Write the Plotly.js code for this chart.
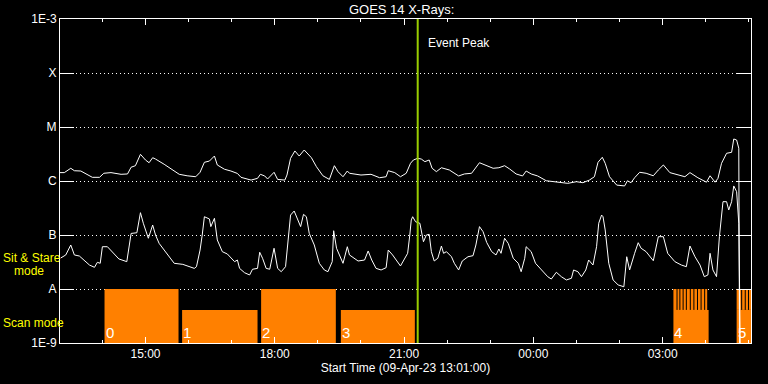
<!DOCTYPE html>
<html>
<head>
<meta charset="utf-8">
<script src="https://cdn.plot.ly/plotly-3.0.1.min.js"></script>
<style>html,body{margin:0;padding:0;background:#000;}#chart{width:768px;height:384px;}</style>
</head>
<body>
<div id="chart"></div>
<script>
// ---- DATA ----
// Start of record: 09-Apr-23 13:00; times below are minutes after 13:00
const startTime = '2023-04-09 13:01';
const endTime = '2023-04-10 05:03';

const longMinutes = [1,7,16,21,30,39,46,56,62,72,
  86,95,100,106,111,113,120,125,130,134,
  146,158,167,178,190,196,202,209,216,220,
  230,239,248,253,267,276,280,286,290,299,
  304,314,317,322,328,334,341,351,358,367,
  376,383,388,395,401,404,420,434,446,455,
  458,467,475,483,489,493,499,504,509,515,
  519,525,532,543,556,564,574,585,592,604,
  612,620,627,636,645,650,657,666,678,692,
  708,720,729,738,745,750,756,760,766,776,
  787,791,796,801,808,817,827,834,841,850,
  864,871,878,889,901,906,913,917,922,929,
  936,939,943,946,947];
const longFlux = [1.43e-6,1.43e-6,1.72e-6,1.55e-6,1.53e-6,1.29e-6,1.17e-6,1.17e-6,1.39e-6,1.43e-6,
  1.33e-6,1.35e-6,1.80e-6,1.92e-6,2.82e-6,3.12e-6,2.45e-6,2.18e-6,2.70e-6,2.55e-6,
  2.04e-6,1.60e-6,1.33e-6,1.25e-6,1.20e-6,1.45e-6,2.22e-6,2.34e-6,2.90e-6,1.98e-6,
  1.65e-6,1.53e-6,1.38e-6,1.17e-6,1.04e-6,1.12e-6,1.33e-6,1.24e-6,1.09e-6,1.45e-6,
  1.07e-6,1.04e-6,1.29e-6,2.63e-6,3.60e-6,2.90e-6,3.75e-6,2.70e-6,1.84e-6,1.25e-6,
  1.07e-6,1.92e-6,1.49e-6,1.20e-6,1.53e-6,1.39e-6,1.29e-6,1.33e-6,1.15e-6,1.20e-6,
  1.55e-6,1.43e-6,1.20e-6,1.39e-6,2.13e-6,2.45e-6,2.63e-6,2.55e-6,2.28e-6,2.45e-6,
  1.72e-6,1.49e-6,1.76e-6,1.60e-6,1.24e-6,1.35e-6,1.39e-6,2.18e-6,1.98e-6,1.72e-6,
  1.76e-6,1.92e-6,1.67e-6,1.35e-6,1.24e-6,1.53e-6,1.35e-6,1.24e-6,1.01e-6,9.7e-7,
  9.05e-7,9.7e-7,9.3e-7,1.04e-6,1.20e-6,2.22e-6,2.75e-6,2.13e-6,1.20e-6,8.4e-7,
  8.1e-7,1.01e-6,9.3e-7,1.15e-6,1.45e-6,1.39e-6,1.25e-6,1.60e-6,1.98e-6,1.43e-6,
  1.25e-6,1.20e-6,1.43e-6,1.15e-6,9.5e-7,1.25e-6,9.5e-7,1.12e-6,2.13e-6,3.26e-6,
  3.40e-6,6.0e-6,5.74e-6,4.04e-6,1e-9];

const shortMinutes = [2,9,16,21,28,35,42,49,53,57,
  60,67,74,83,94,96,100,108,113,117,
  124,130,134,139,148,160,172,181,188,191,
  196,199,202,209,211,216,220,227,234,244,
  248,251,258,265,269,276,279,283,288,293,
  299,304,309,315,319,322,327,332,336,340,
  344,348,355,362,369,374,380,382,386,395,
  401,404,416,425,430,435,441,448,455,458,
  464,475,482,485,488,490,492,496,502,504,
  507,511,515,518,522,527,532,535,539,546,
  550,556,561,569,576,580,585,590,595,602,
  608,612,615,620,625,632,639,643,648,650,
  657,663,671,680,685,692,699,706,713,716,
  722,727,733,737,743,748,751,755,757,760,
  765,771,778,786,790,794,801,806,810,817,
  827,834,841,847,857,866,873,878,885,892,
  898,903,906,910,915,919,924,929,932,936,
  939,943,946,948];
const shortFlux = [3.75e-8,4.27e-8,6.53e-8,4.27e-8,4.08e-8,3.30e-8,2.78e-8,2.52e-8,3.12e-8,2.99e-8,
  6.07e-8,6.07e-8,4.91e-8,3.60e-8,3.21e-8,4.91e-8,1.07e-7,1.10e-7,2.59e-7,1.65e-7,
  8.7e-8,1.53e-7,1.0e-7,7.0e-8,4.91e-8,2.99e-8,2.86e-8,2.59e-8,2.41e-8,2.59e-8,
  5.27e-8,1.0e-7,2.18e-7,1.98e-7,1.43e-7,2.04e-7,8.1e-8,4.91e-8,4.45e-8,3.21e-8,
  3.44e-8,2.41e-8,2.0e-8,1.82e-8,2.32e-8,2.41e-8,4.79e-8,3.71e-8,2.41e-8,2.32e-8,
  5.68e-8,2.41e-8,2.09e-8,2.59e-8,1.0e-7,2.34e-7,2.78e-7,1.90e-7,1.43e-7,2.41e-7,
  2.18e-7,1.07e-7,6.53e-8,2.99e-8,2.25e-8,2.09e-8,3.21e-8,1.20e-7,5.68e-8,2.99e-8,
  6.07e-8,4.27e-8,3.30e-8,3.44e-8,5.06e-8,3.44e-8,2.41e-8,2.25e-8,2.48e-8,5.27e-8,
  4.27e-8,2.67e-8,3.96e-8,4.58e-8,1.0e-7,1.90e-7,2.18e-7,1.76e-7,1.65e-7,1.24e-7,
  7.5e-8,1.0e-7,1.03e-7,4.91e-8,3.30e-8,3.71e-8,6.25e-8,4.58e-8,4.91e-8,3.96e-8,
  2.99e-8,2.25e-8,3.30e-8,3.96e-8,4.14e-8,6.53e-8,1.43e-7,1.15e-7,7.3e-8,4.91e-8,
  4.27e-8,5.51e-8,4.58e-8,8.7e-8,7.0e-8,3.71e-8,2.99e-8,2.09e-8,3.71e-8,6.07e-8,
  4.91e-8,2.99e-8,2.25e-8,1.69e-8,1.53e-8,2.04e-8,1.69e-8,1.47e-8,1.58e-8,2.25e-8,
  2.09e-8,1.69e-8,2.25e-8,3.44e-8,2.78e-8,6.07e-8,1.65e-7,2.34e-7,2.18e-7,1.24e-7,
  2.99e-8,1.47e-8,1.19e-8,1.10e-8,3.96e-8,2.25e-8,4.58e-8,7.2e-8,5.68e-8,4.91e-8,
  3.34e-8,9.3e-8,9.3e-8,4.58e-8,3.21e-8,2.78e-8,2.59e-8,6.25e-8,3.96e-8,2.78e-8,
  1.69e-8,1.82e-8,4.58e-8,2.25e-8,1.69e-8,9.3e-8,4.14e-7,4.14e-7,2.90e-7,4.14e-7,
  8.1e-7,6.34e-7,1.65e-7,1e-9];

// Observing mode blocks (numbered 0..5)
const blockLabels = ['0','1','2','3','4','5'];
const blockStart = ['2023-04-09 14:03','2023-04-09 15:51','2023-04-09 17:41','2023-04-09 19:32','2023-04-10 03:15','2023-04-10 04:43'];
const blockEnd   = ['2023-04-09 15:46','2023-04-09 17:36','2023-04-09 19:25','2023-04-09 21:15','2023-04-10 04:04','2023-04-10 05:05'];
const blockMode  = ['stare','scan','stare','scan','scan','scan'];
// Rapid sit&stare pulses inside blocks 4 and 5
const pulseStart = ['2023-04-10 03:15','2023-04-10 04:43'];
const pulseEnd   = ['2023-04-10 04:02','2023-04-10 05:05'];
const pulseGaps  = ['2023-04-10 03:20','2023-04-10 03:24','2023-04-10 03:28.5','2023-04-10 03:33','2023-04-10 03:38.5','2023-04-10 03:43.5','2023-04-10 03:48.5','2023-04-10 03:53.5','2023-04-10 03:58.5','2023-04-10 04:50','2023-04-10 04:55','2023-04-10 04:59.5'];
const modeLevel = {base: 1e-9, scan: 4.1e-9, stare: 1e-8};

const eventPeak = '2023-04-09 21:19';

const yTickVals = [1e-9,1e-8,1e-7,1e-6,1e-5,1e-4,1e-3];
const yTickText = ['1E-9','A','B','C','M','X','1E-3'];

// ---- helpers ----
function minToDate(m){
  const t = new Date(Date.UTC(2023,3,9,13,0,0) + Math.round(m*60000));
  return t.toISOString().slice(0,19).replace('T',' ');
}
function fixT(s){ // allow fractional minutes like 03:28.5
  const m = s.match(/^(\d{4}-\d{2}-\d{2}) (\d{2}):(\d{2})(\.\d+)?$/);
  if(!m) return s;
  const sec = m[4] ? Math.round(parseFloat(m[4])*60) : 0;
  return m[1]+' '+m[2]+':'+m[3]+':'+String(sec).padStart(2,'0');
}

const traces = [];
// mode blocks
for(let i=0;i<blockStart.length;i++){
  const s=blockStart[i], e=blockEnd[i], lv=modeLevel[blockMode[i]];
  traces.push({type:'scatter',mode:'lines',x:[s,s,e,e,s],y:[modeLevel.base,lv,lv,modeLevel.base,modeLevel.base],
    fill:'toself',fillcolor:'#ff8000',line:{width:0,color:'#ff8000'},hoverinfo:'skip'});
}
for(let i=0;i<pulseStart.length;i++){
  const s=pulseStart[i], e=pulseEnd[i];
  traces.push({type:'scatter',mode:'lines',x:[s,s,e,e,s],y:[modeLevel.scan,modeLevel.stare,modeLevel.stare,modeLevel.scan,modeLevel.scan],
    fill:'toself',fillcolor:'#ff8000',line:{width:0,color:'#ff8000'},hoverinfo:'skip'});
}
const gx=[],gy=[];
pulseGaps.forEach(g=>{const t=fixT(g); gx.push(t,t,null); gy.push(modeLevel.scan,modeLevel.stare,null);});
traces.push({type:'scatter',mode:'lines',x:gx,y:gy,line:{color:'#000',width:1},hoverinfo:'skip'});

traces.push({type:'scatter',mode:'lines',x:longMinutes.map(minToDate),y:longFlux,line:{color:'#fff',width:1,shape:'linear'},hoverinfo:'skip'});
traces.push({type:'scatter',mode:'lines',x:shortMinutes.map(minToDate),y:shortFlux,line:{color:'#fff',width:1},hoverinfo:'skip'});
// carrier for the top time axis (no visible marks)
traces.push({type:'scatter',mode:'lines',x:[startTime],y:[1e-9],xaxis:'x2',line:{width:0},opacity:0,hoverinfo:'skip'});

const plotW=691, plotH=324;
const annotations = [
  {text:'Event Peak',x:eventPeak,xref:'x',y:0.926,yref:'paper',xanchor:'left',yanchor:'middle',xshift:8,showarrow:false,font:{color:'#fff',size:12}},
  {text:'Sit & Stare',xref:'paper',x:(1-60)/plotW,yref:'paper',y:(343-258)/plotH,xanchor:'left',yanchor:'middle',showarrow:false,font:{color:'#ffff00',size:12}},
  {text:'mode',xref:'paper',x:(29-60)/plotW,yref:'paper',y:(343-271)/plotH,xanchor:'center',yanchor:'middle',showarrow:false,font:{color:'#ffff00',size:12}},
  {text:'Scan mode',xref:'paper',x:(1-60)/plotW,yref:'paper',y:(343-323)/plotH,xanchor:'left',yanchor:'middle',showarrow:false,font:{color:'#ffff00',size:12}}
];
for(let i=0;i<blockStart.length;i++){
  annotations.push({text:blockLabels[i],x:blockStart[i],xref:'x',y:0,yref:'paper',xanchor:'left',yanchor:'bottom',xshift:-1,showarrow:false,font:{color:'#fff',size:15}});
}

const xTickCommon = {type:'date',range:[startTime,endTime],
  tick0:'2023-04-09 00:00',dtick:3*3600000,tickformat:'%H:%M',ticks:'inside',ticklen:6,tickcolor:'#fff',tickwidth:1,
  minor:{dtick:3600000,ticks:'inside',ticklen:3,tickcolor:'#fff',tickwidth:1,showgrid:false},
  showgrid:false,zeroline:false};

const layout = {
  width:768,height:384,
  paper_bgcolor:'#000',plot_bgcolor:'#000',
  margin:{l:60,r:17,t:19,b:41},
  showlegend:false,
  font:{family:'Liberation Sans, Arial, sans-serif',color:'#fff',size:12},
  title:{text:'GOES 14 X-Rays:',font:{size:13,color:'#fff'},x:0.523,xref:'container',xanchor:'center',y:0.975,yref:'container',yanchor:'middle'},
  xaxis:Object.assign({},xTickCommon,{showline:true,linecolor:'#fff',linewidth:1,mirror:true,
    tickfont:{size:12,color:'#fff'},
    title:{text:'Start Time (09-Apr-23 13:01:00)',font:{size:12,color:'#fff'},standoff:2}}),
  xaxis2:Object.assign({},xTickCommon,{overlaying:'x',side:'top',showline:false,showticklabels:false,anchor:'y'}),
  yaxis:{type:'log',range:[-9,-3],tickvals:yTickVals,ticktext:yTickText,showline:true,linecolor:'#fff',linewidth:1,mirror:'ticks',
    ticks:'inside',ticklen:14,tickcolor:'#fff',tickwidth:1,showgrid:true,gridcolor:'#fff',gridwidth:1,griddash:'1px,3px',
    zeroline:false,tickfont:{size:12,color:'#fff'}},
  shapes:[{type:'line',xref:'x',x0:eventPeak,x1:eventPeak,yref:'paper',y0:0,y1:1,line:{color:'#99cc00',width:2},layer:'above'}],
  annotations:annotations
};
Plotly.newPlot('chart',traces,layout,{staticPlot:true,displayModeBar:false});
</script>
</body>
</html>
